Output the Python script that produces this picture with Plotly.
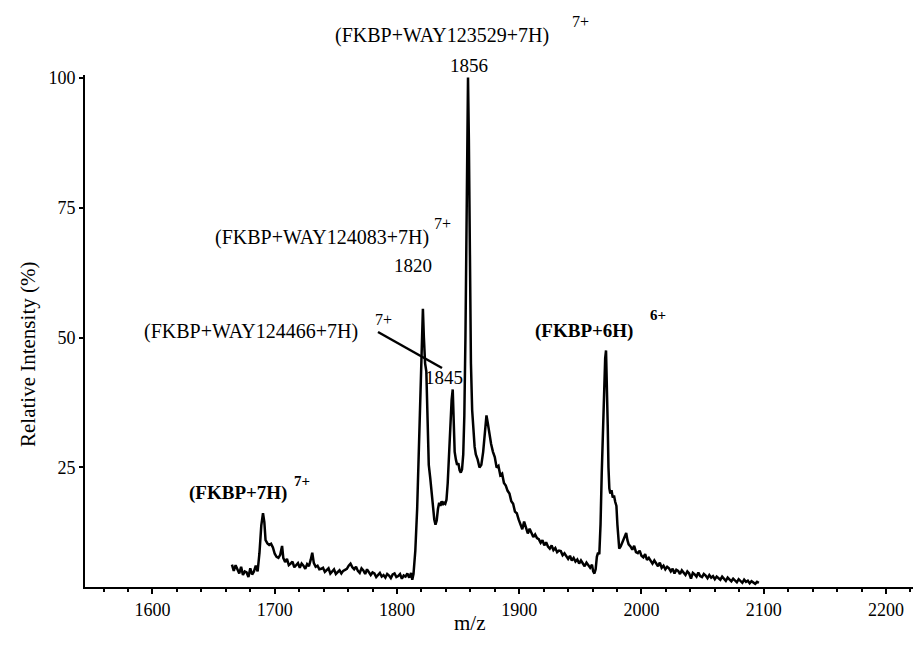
import plotly.graph_objects as go

# ---- data ----
mz = [
    1665.0, 1666.5, 1668.0, 1669.5, 1671.0, 1672.5, 1674.0, 1675.5, 1677.0, 1678.5,
    1680.0, 1681.5, 1683.0, 1684.5, 1686.0, 1687.5, 1689.0, 1690.4, 1691.5, 1692.5,
    1694.0, 1695.5, 1697.0, 1698.5, 1700.0, 1701.5, 1703.0, 1704.5, 1706.0, 1707.0,
    1708.5, 1710.0, 1711.5, 1713.0, 1714.5, 1716.0, 1717.5, 1719.0, 1720.5, 1722.0,
    1723.5, 1725.0, 1726.5, 1728.0, 1729.5, 1730.7, 1732.0, 1733.5, 1735.0, 1736.5,
    1738.0, 1739.5, 1741.0, 1742.5, 1744.0, 1745.5, 1747.0, 1748.5, 1750.0, 1751.5,
    1753.0, 1754.5, 1756.0, 1757.5, 1759.0, 1760.5, 1762.0, 1763.5, 1765.0, 1766.5,
    1768.0, 1769.5, 1771.0, 1772.5, 1774.0, 1775.5, 1777.0, 1778.5, 1780.0, 1781.5,
    1783.0, 1784.5, 1786.0, 1787.5, 1789.0, 1790.5, 1792.0, 1793.5, 1795.0, 1796.5,
    1798.0, 1799.5, 1801.0, 1802.5, 1804.0, 1805.5, 1807.0, 1808.5, 1810.0, 1811.5,
    1812.5, 1813.5, 1815.0, 1816.5, 1818.0, 1819.3, 1820.3, 1821.2, 1822.0, 1823.0,
    1824.0, 1825.0, 1826.0, 1827.2, 1828.3, 1829.4, 1830.5, 1831.5, 1832.5, 1833.5,
    1834.5, 1835.5, 1836.5, 1837.5, 1838.5, 1839.5, 1840.5, 1841.5, 1842.5, 1843.5,
    1844.7, 1845.6, 1846.3, 1847.2, 1848.2, 1849.2, 1850.2, 1851.2, 1852.2, 1853.2,
    1854.2, 1855.1, 1856.0, 1856.8, 1857.5, 1858.1, 1858.8, 1859.6, 1860.5, 1861.5,
    1862.5, 1863.5, 1864.5, 1866.0, 1867.5, 1869.0, 1870.5, 1872.0, 1873.2, 1874.3,
    1875.5, 1877.0, 1878.5, 1880.0, 1881.5, 1883.0, 1884.5, 1886.0, 1887.5, 1889.0,
    1890.5, 1892.0, 1893.5, 1895.0, 1896.5, 1898.0, 1899.5, 1901.0, 1902.5, 1904.0,
    1905.5, 1907.0, 1908.5, 1910.0, 1911.5, 1913.0, 1914.5, 1916.0, 1917.5, 1919.0,
    1920.5, 1922.0, 1923.5, 1925.0, 1926.5, 1928.0, 1929.5, 1931.0, 1932.5, 1934.0,
    1935.5, 1937.0, 1938.5, 1940.0, 1941.5, 1943.0, 1944.5, 1946.0, 1947.5, 1949.0,
    1950.5, 1952.0, 1953.5, 1955.0, 1956.5, 1958.0, 1959.5, 1960.5, 1961.5, 1962.5,
    1963.5, 1964.5, 1965.5, 1966.5, 1967.5, 1968.5, 1969.5, 1970.3, 1971.0, 1971.7,
    1972.4, 1973.0, 1973.7, 1974.5, 1975.5, 1976.5, 1977.5, 1978.5, 1979.5, 1980.3,
    1981.0, 1981.8, 1983.0, 1984.5, 1986.0, 1987.5, 1988.5, 1989.5, 1991.0, 1992.5,
    1994.0, 1995.5, 1997.0, 1998.5, 2000.0, 2001.5, 2003.0, 2004.5, 2006.0, 2007.5,
    2009.0, 2010.5, 2012.0, 2013.5, 2015.0, 2016.5, 2018.0, 2019.5, 2021.0, 2022.5,
    2024.0, 2025.5, 2027.0, 2028.5, 2030.0, 2031.5, 2033.0, 2034.5, 2036.0, 2037.5,
    2039.0, 2040.5, 2042.0, 2043.5, 2045.0, 2046.5, 2048.0, 2049.5, 2051.0, 2052.5,
    2054.0, 2055.5, 2057.0, 2058.5, 2060.0, 2061.5, 2063.0, 2064.5, 2066.0, 2067.5,
    2069.0, 2070.5, 2072.0, 2073.5, 2075.0, 2076.5, 2078.0, 2079.5, 2081.0, 2082.5,
    2084.0, 2085.5, 2087.0, 2088.5, 2090.0, 2091.5, 2093.0, 2094.5, 2096.0,
]
intensity = [
    6.3, 5.1, 6.2, 5.5, 4.6, 5.9, 4.3, 5.0, 4.8, 3.9,
    5.6, 4.4, 5.0, 6.1, 5.0, 8.5, 13.8, 16.2, 14.5, 11.0,
    10.4, 10.1, 10.3, 9.6, 8.4, 7.8, 7.6, 8.2, 9.9, 7.6,
    6.8, 7.4, 6.2, 6.5, 6.9, 5.8, 6.3, 6.6, 5.7, 6.5,
    6.1, 5.5, 6.4, 6.0, 7.3, 8.6, 6.6, 5.9, 6.1, 5.4,
    5.5, 5.7, 4.9, 5.3, 5.6, 4.6, 5.0, 5.4, 4.5, 4.9,
    5.2, 4.6, 5.1, 5.3, 5.5, 6.1, 6.5, 5.8, 5.4, 5.9,
    5.1, 4.7, 5.6, 5.2, 4.5, 5.4, 4.9, 4.3, 4.8, 4.6,
    3.9, 4.4, 4.7, 4.0, 4.3, 3.8, 4.5, 4.2, 3.7, 4.4,
    4.6, 3.9, 4.1, 4.5, 3.6, 4.2, 4.0, 4.6, 3.8, 4.7,
    3.4, 4.5, 9.0, 17.0, 28.0, 38.0, 46.0, 55.5, 50.0, 45.0,
    43.5, 33.0, 25.5, 23.0, 20.0, 17.0, 15.0, 14.0, 14.8, 17.0,
    18.2, 17.6, 18.5, 17.8, 18.2, 18.0, 18.8, 22.0, 27.0, 33.0,
    38.0, 40.0, 36.0, 28.0, 26.5, 25.5, 25.8, 24.5, 24.0, 24.6,
    27.5, 35.0, 50.0, 72.0, 92.0, 100.0, 88.0, 60.0, 45.0, 36.0,
    31.0, 29.0, 27.5, 26.5, 25.0, 25.5, 28.0, 32.0, 35.0, 33.5,
    31.5, 29.5, 28.0, 27.0, 25.0, 25.3, 23.5, 23.8, 22.0, 21.5,
    20.5, 20.0, 18.5, 18.0, 16.5, 16.2, 15.0, 14.0, 13.1, 14.6,
    13.4, 12.3, 13.2, 12.5, 11.6, 12.1, 11.4, 11.2, 10.5, 11.0,
    10.0, 10.6, 9.8, 9.4, 10.0, 9.1, 9.5, 8.7, 9.0, 8.9,
    8.1, 8.5, 7.8, 7.4, 8.0, 7.1, 7.6, 6.9, 7.3, 6.5,
    7.1, 6.6, 6.0, 6.7, 6.2, 5.7, 6.3, 5.0, 4.6, 5.4,
    7.8, 8.6, 8.3, 14.0, 24.0, 33.0, 41.0, 46.0, 47.5, 42.0,
    33.0, 25.0, 21.0, 20.0, 20.6, 19.2, 19.6, 18.4, 17.6, 14.0,
    10.5, 9.4, 9.8, 10.6, 11.4, 12.4, 11.0, 10.2, 9.8, 9.2,
    9.9, 8.7, 8.5, 9.0, 8.0, 7.7, 8.3, 7.2, 7.6, 7.0,
    6.5, 7.1, 6.4, 6.0, 6.7, 5.7, 6.1, 5.4, 5.9, 5.6,
    5.0, 5.5, 4.6, 5.3, 5.1, 4.5, 5.2, 4.8, 4.3, 5.0,
    4.6, 3.6, 4.7, 4.4, 4.0, 4.8, 4.1, 3.9, 4.5, 4.2,
    3.7, 4.3, 3.8, 4.1, 3.5, 4.0, 3.7, 3.4, 4.0, 3.6,
    3.2, 3.8, 3.4, 3.1, 3.6, 3.3, 2.9, 3.5, 3.2, 2.8,
    3.4, 3.0, 3.2, 2.7, 3.1, 2.9, 2.6, 3.0, 2.8,
]

x_ticks = [1600, 1700, 1800, 1900, 2000, 2100, 2200]
y_ticks = [25, 50, 75, 100]

# ---- layout helpers (pixel -> paper) ----
W, H = 913, 646
ML, MR, MT, MB = 85, 0, 75, 59
PW, PH = W - ML - MR, H - MT - MB


def px(x):
    return (x - ML) / PW


def py(y):
    return (H - MB - y) / PH


FONT = "Liberation Serif, Times New Roman, serif"

fig = go.Figure()
fig.add_trace(go.Scatter(x=mz, y=intensity, mode="lines",
                         line=dict(color="black", width=2.5),
                         hoverinfo="skip", showlegend=False))

labels = [
    # text, left px, center y px, size, bold
    ("(FKBP+WAY123529+7H)", 333, 35, 20, False),
    ("7+", 570, 21, 16, False),
    ("(FKBP+WAY124083+7H)", 213, 237, 20, False),
    ("7+", 432, 223, 16, False),
    ("(FKBP+WAY124466+7H)", 142, 331, 20, False),
    ("7+", 373, 319, 16, False),
    ("(FKBP+6H)", 533, 331, 19, True),
    ("6+", 648, 315, 15, True),
    ("(FKBP+7H)", 187, 493, 19, True),
    ("7+", 292, 481, 15, True),
]
ann = []
for t, lx, cy, s, b in labels:
    ann.append(dict(text=f"<b>{t}</b>" if b else t, x=px(lx), y=py(cy),
                    xref="paper", yref="paper", xanchor="left", yanchor="middle",
                    showarrow=False, font=dict(family=FONT, size=s, color="black")))

centers = [("1856", 469, 65), ("1820", 413, 265), ("1845", 444, 377)]
for t, cx, cy in centers:
    ann.append(dict(text=t, x=px(cx), y=py(cy), xref="paper", yref="paper",
                    xanchor="center", yanchor="middle", showarrow=False,
                    font=dict(family=FONT, size=19, color="black")))

ann.append(dict(text="m/z", x=px(470), y=py(623), xref="paper", yref="paper",
                xanchor="center", yanchor="middle", showarrow=False,
                font=dict(family=FONT, size=21, color="black")))
ann.append(dict(text="Relative Intensity (%)", x=px(28), y=py(355), xref="paper",
                yref="paper", xanchor="center", yanchor="middle", textangle=-90,
                showarrow=False, font=dict(family=FONT, size=21, color="black")))

fig.add_shape(type="line", xref="paper", yref="paper",
              x0=px(378), y0=py(332), x1=px(442), y1=py(368),
              line=dict(color="black", width=2.5))

fig.update_layout(
    width=W, height=H,
    margin=dict(l=ML, r=MR, t=MT, b=MB),
    paper_bgcolor="white", plot_bgcolor="white",
    annotations=ann,
    font=dict(family=FONT, color="black"),
    xaxis=dict(range=[1544.8, 2222.1], tickvals=x_ticks, showgrid=False,
               zeroline=False, showline=True, linecolor="black", linewidth=2,
               ticks="outside", ticklen=5, tickwidth=1.5, tickcolor="black",
               minor=dict(dtick=20, ticks="outside", ticklen=3, tickcolor="black"),
               tickfont=dict(family=FONT, size=18, color="black")),
    yaxis=dict(range=[2.0, 100.5], tickvals=y_ticks, showgrid=False,
               zeroline=False, showline=True, linecolor="black", linewidth=2,
               ticks="outside", ticklen=4, tickwidth=1.5, tickcolor="black",
               tickfont=dict(family=FONT, size=18, color="black")),
)

fig.write_html("out.html")
